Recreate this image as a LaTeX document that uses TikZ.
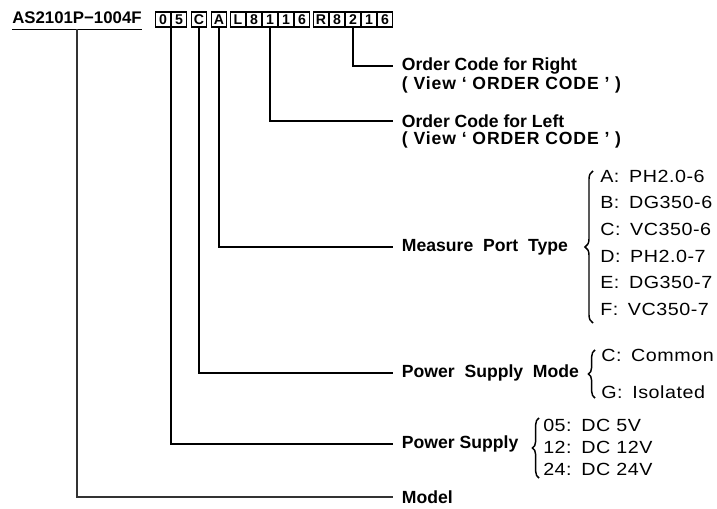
\documentclass[tikz,border=0pt]{standalone}
\usepackage{fontspec}
\setmainfont{Liberation Sans}
\newfontfamily\optfont[FakeStretch=1.12, LetterSpace=3]{Liberation Sans}
\usetikzlibrary{positioning, decorations.pathreplacing, calc}

\newcommand{\colsep}{:\hspace{0.55em}}

\begin{document}
\begin{tikzpicture}[
  x=0.75pt, y=-0.75pt,
  cbox/.style={draw, line width=1.1pt, minimum width=10.9pt, minimum height=11.2pt,
    inner sep=0pt, font=\bfseries\fontsize{10.6}{11}\selectfont},
  lbl/.style={anchor=west, inner xsep=6.5pt, inner ysep=0pt,
    font=\bfseries\fontsize{13.2}{15}\selectfont},
  vw/.style={lbl, font=\bfseries\fontsize{13.2}{15}\selectfont\addfontfeature{LetterSpace=5}},
  opt/.style={anchor=west, inner sep=0pt, font=\optfont\fontsize{13.2}{15}\selectfont},
  lead/.style={line width=0.9pt},
  curly/.style={decorate, decoration={brace, amplitude=#1}, line width=1.1pt},
]
\useasboundingbox (0,0) rectangle (717,509);

% --- the part number and its code boxes
\node[anchor=base west, inner sep=0pt, font=\bfseries\fontsize{12.6}{14}\selectfont]
  (ttl) at (12,24) {AS2101P−1004F};
\draw[lead] ($(ttl.base west)+(0,5.5)$) -- ($(ttl.base east)+(0,5.5)$);

\node[cbox] (b0) at (163,19.5) {0};
\node[cbox] (b5) at (179,19.5) {5};
\node[cbox] (bc) at (199,19.5) {C};
\node[cbox] (ba) at (219,19.5) {A};
\foreach \c [count=\i] in {L,8,1,1,6}
  \node[cbox] (l\i) at ({238+16*(\i-1)},19.5) {\c};
\foreach \c [count=\i] in {R,8,2,1,6}
  \node[cbox] (r\i) at ({321+16*(\i-1)},19.5) {\c};

% --- labels on the right
\node[lbl] (ocr)  at (393,66)  {Order Code for Right};
\node[vw]  (ocrv) at (393,85)  {( View ‘ ORDER CODE ’ )};
\node[lbl] (ocl)  at (393,121) {Order Code for Left};
\node[vw]  (oclv) at (393,140) {( View ‘ ORDER CODE ’ )};
\node[lbl] (mpt)  at (393,247) {Measure\ \ Port\ \ Type};
\node[lbl] (psm)  at (393,373) {Power\ \ Supply\ \ Mode};
\node[lbl] (ps)   at (393,444) {Power Supply};
\node[lbl] (mdl)  at (393,497) {Model};

% --- leader lines
\draw[lead] (r3.south) |- (ocr.west);
\draw[lead] (l3.south) |- (ocl.west);
\draw[lead] (ba.south) |- (mpt.west);
\draw[lead] (bc.south) |- (psm.west);
\draw[lead] ($(b0.south)!.5!(b5.south)$) |- (ps.west);
\draw[lead, draw=black!80] ($(ttl.base)+(0,5.5)$) |- (mdl.west);

% --- option lists with braces
\draw[curly=6pt] (593,323) -- (593,171);
\foreach \t [count=\i] in {A\colsep PH2.0-6, B\colsep DG350-6, C\colsep VC350-6,
                          D\colsep PH2.0-7, E\colsep DG350-7, F\colsep VC350-7}
  \node[opt] (mo\i) at (600,{176+26.7*(\i-1)}) {\t};

\draw[curly=5pt] (595,398) -- (595,350);
\node[opt] (pmc) at (601,355) {C\colsep Common};
\node[opt] (pmg) at (601,392) {G\colsep Isolated};

\draw[curly=5pt] (539,478) -- (539,418);
\node[opt] (pv05) at (543,425) {05\colsep DC 5V};
\node[opt] (pv12) at (543,447) {12\colsep DC 12V};
\node[opt] (pv24) at (543,469) {24\colsep DC 24V};

\end{tikzpicture}
\end{document}
